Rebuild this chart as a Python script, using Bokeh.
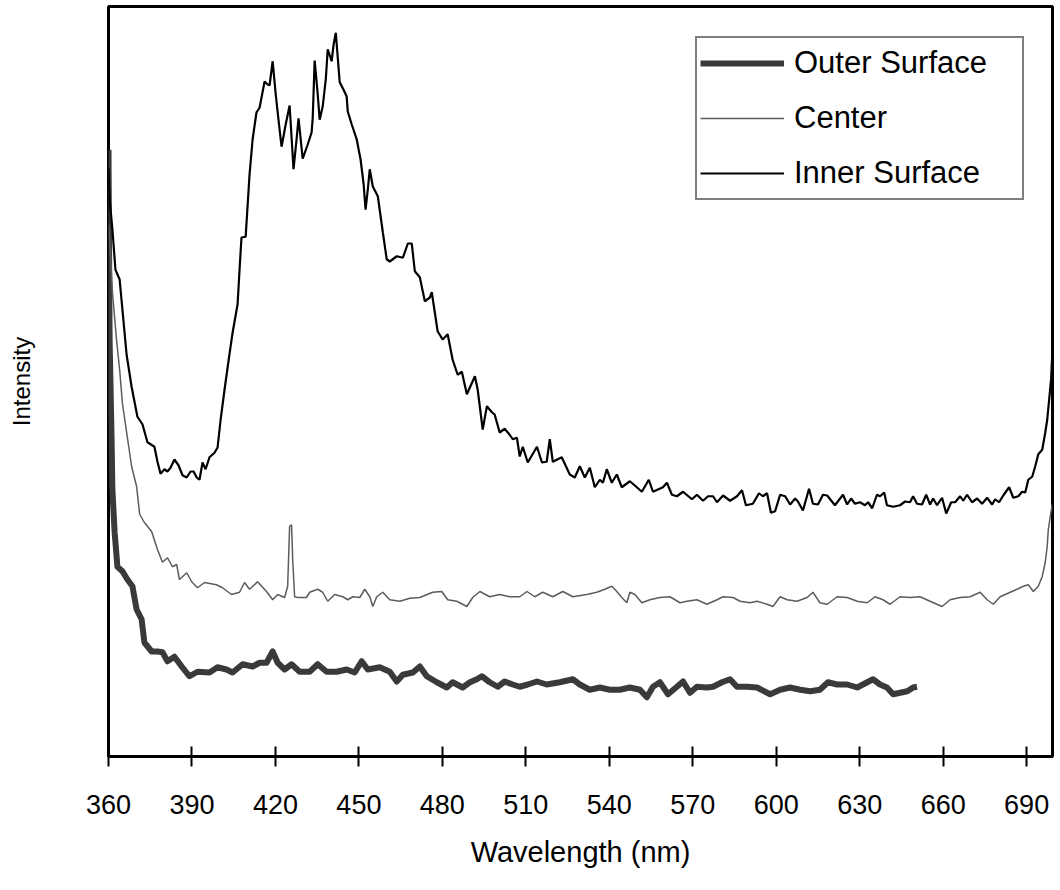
from bokeh.plotting import figure
from bokeh.models import Range1d, FixedTicker, Legend, LegendItem
from bokeh.embed import file_html
from bokeh.resources import INLINE

# ---------------- data ----------------
x_ticks = [360, 390, 420, 450, 480, 510, 540, 570, 600, 630, 660, 690]
series_names = ["Outer Surface", "Center", "Inner Surface"]

outer_nm = [360, 360.4, 361.1, 361.4, 362.2, 363.2, 365.0, 366.8, 368.6, 370.1, 371.9, 372.9, 375.5, 377.6,
            379.4, 381.2, 383.7, 386.3, 389.1, 392.0, 396.3, 399.2, 402.4, 404.6, 408.2, 411.8, 414.3, 416.8,
            419.0, 420.8, 423.3, 425.8, 428.7, 432.3, 435.2, 438.4, 442.0, 445.6, 448.5, 451.0, 453.2, 457.5,
            461.1, 463.6, 465.8, 469.4, 471.9, 474.4, 478.0, 481.6, 483.7, 487.3, 489.9, 492.4, 494.2, 497.0,
            499.9, 502.4, 505.3, 507.8, 510.7, 514.0, 517.5, 522.2, 526.9, 529.4, 533.0, 536.6, 540.2, 543.8,
            547.4, 551.0, 553.5, 555.7, 558.2, 561.1, 564.3, 566.5, 569.0, 571.5, 575.1, 577.3, 580.5, 583.4,
            585.9, 589.5, 593.1, 597.8, 601.4, 605.0, 608.6, 612.2, 615.7, 618.6, 621.9, 625.5, 629.1, 632.7,
            634.8, 637.3, 639.8, 642.0, 644.5, 647.1, 649.2, 650.6]
outer_int = [80.9, 55.5, 42.5, 35.6, 29.9, 25.3, 24.7, 23.6, 22.7, 19.6, 18.3, 15.2, 14.0, 14.0,
             13.9, 12.7, 13.3, 12.0, 10.7, 11.3, 11.2, 11.9, 11.6, 11.2, 12.3, 12.0, 12.5, 12.5,
             14.0, 12.5, 11.6, 12.3, 11.3, 11.3, 12.3, 11.3, 11.3, 11.6, 11.2, 12.7, 11.6, 11.9,
             11.3, 10.0, 10.9, 11.2, 12.0, 10.7, 9.9, 9.2, 9.9, 9.2, 9.9, 10.3, 10.7, 9.9,
             9.3, 10.0, 9.6, 9.3, 9.6, 10.0, 9.6, 9.9, 10.3, 9.6, 8.9, 9.2, 8.9, 8.9,
             9.2, 8.9, 7.9, 9.3, 9.9, 8.3, 9.3, 10.0, 8.5, 9.3, 9.2, 9.3, 9.9, 10.3,
             9.3, 9.3, 9.2, 8.3, 8.9, 9.2, 8.9, 8.7, 8.9, 9.9, 9.6, 9.6, 9.2, 9.9,
             10.3, 9.6, 9.2, 8.3, 8.5, 8.7, 9.2, 9.3]

center_nm = [360, 360.4, 361.4, 362.9, 364.0, 365.0, 366.8, 368.3, 370.1, 371.2, 372.9, 375.5, 377.6, 379.4,
             381.2, 383.0, 384.5, 385.5, 388.1, 389.9, 392.0, 394.5, 398.8, 401.0, 404.2, 407.1, 408.9, 410.7,
             413.6, 416.8, 419.0, 420.8, 423.3, 424.4, 425.1, 425.8, 426.2, 426.9, 428.0, 431.2, 432.3, 435.2,
             437.0, 438.8, 441.3, 444.2, 446.0, 447.8, 450.3, 452.1, 453.9, 455.0, 456.4, 458.6, 461.1, 464.7,
             468.3, 471.9, 476.5, 479.8, 481.9, 485.2, 488.8, 490.9, 493.5, 497.0, 500.6, 504.2, 507.8, 510.4,
             513.2, 516.1, 519.7, 523.3, 526.9, 531.9, 535.5, 538.4, 540.9, 542.7, 544.5, 546.3, 547.4, 549.2,
             551.7, 554.6, 558.2, 561.8, 565.4, 567.9, 571.5, 575.1, 578.7, 580.9, 584.5, 587.0, 590.6, 593.1,
             596.7, 598.8, 601.4, 603.9, 607.5, 611.1, 613.2, 615.7, 618.3, 621.9, 625.5, 629.1, 632.7, 635.5,
             638.4, 640.9, 644.5, 648.1, 651.7, 655.3, 659.6, 662.5, 666.1, 669.7, 673.3, 675.8, 678.0, 680.5,
             684.1, 686.6, 688.8, 690.6, 692.4, 694.2, 695.6, 696.7, 697.4, 697.8, 698.5, 699.2]
center_int = [70.9, 68.9, 62.0, 55.5, 51.6, 47.1, 42.5, 38.7, 36.0, 32.3, 31.2, 30.0, 27.6, 25.9,
              26.5, 25.3, 25.6, 23.6, 24.5, 23.3, 22.5, 23.2, 22.9, 22.5, 21.6, 21.9, 23.2, 22.3,
              23.3, 22.0, 20.9, 21.6, 21.2, 22.7, 30.7, 30.9, 26.3, 21.3, 21.2, 21.2, 21.9, 22.3,
              21.9, 20.7, 21.6, 21.3, 20.9, 21.3, 21.2, 22.3, 21.3, 20.0, 21.3, 21.9, 20.9, 20.7,
              21.1, 21.2, 21.9, 22.0, 20.9, 20.7, 20.0, 21.2, 22.0, 21.3, 21.6, 21.3, 21.3, 22.0,
              21.3, 21.9, 21.3, 22.0, 21.3, 21.6, 21.9, 22.3, 22.7, 22.0, 21.2, 20.5, 21.9, 21.6,
              20.5, 20.9, 21.2, 21.3, 20.5, 20.7, 20.9, 20.3, 20.9, 21.3, 21.2, 20.7, 20.5, 20.7,
              20.3, 20.0, 21.3, 20.9, 20.7, 21.2, 21.9, 20.5, 20.3, 21.3, 21.2, 20.7, 20.5, 21.3,
              20.9, 20.3, 21.3, 21.2, 21.3, 20.7, 20.0, 20.9, 21.2, 21.3, 21.9, 20.9, 20.3, 21.3,
              21.9, 22.3, 22.7, 22.9, 22.0, 22.7, 24.0, 25.9, 28.0, 30.3, 32.0, 33.6]

inner_nm = [360, 360.4, 361.4, 362.5, 364.0, 365.0, 366.5, 368.3, 370.4, 372.2, 374.0, 376.5, 377.6, 378.7,
            380.1, 381.2, 382.3, 383.7, 385.2, 386.6, 388.1, 389.5, 390.6, 391.7, 392.7, 393.8, 394.9, 396.3,
            398.1, 399.2, 400.3, 401.7, 403.2, 404.6, 406.4, 407.1, 407.8, 409.3, 410.7, 411.8, 413.2, 414.3,
            416.1, 417.2, 417.9, 419.0, 420.1, 421.1, 422.2, 423.7, 425.1, 426.5, 427.6, 428.3, 429.8, 431.6,
            433.0, 433.4, 434.1, 435.2, 435.9, 437.0, 438.1, 438.8, 440.2, 440.9, 441.7, 443.1, 444.5, 445.6,
            446.0, 447.4, 449.2, 450.6, 451.7, 452.4, 453.2, 453.9, 455.0, 456.8, 458.6, 460.0, 461.1, 463.6,
            465.8, 467.6, 469.0, 470.1, 471.9, 473.7, 475.5, 476.2, 478.3, 480.1, 481.9, 483.7, 485.5, 487.0,
            488.8, 491.7, 492.7, 494.5, 496.0, 497.8, 498.8, 500.6, 502.4, 504.2, 505.3, 506.8, 507.8, 508.9,
            510.7, 514.0, 515.8, 517.5, 518.6, 519.7, 522.9, 525.8, 527.6, 529.4, 531.2, 533.0, 534.8, 536.6,
            537.7, 539.1, 540.9, 542.7, 544.5, 547.4, 549.9, 551.7, 554.2, 555.7, 559.3, 560.7, 562.5, 564.3,
            566.5, 569.7, 571.5, 573.7, 575.5, 577.3, 578.7, 580.9, 583.4, 585.9, 587.7, 589.1, 591.6, 593.8,
            595.2, 596.7, 598.1, 599.6, 601.4, 603.2, 605.0, 606.8, 607.8, 609.6, 611.8, 613.2, 615.0, 616.8,
            618.3, 621.1, 624.0, 625.5, 626.9, 628.3, 630.1, 631.9, 633.0, 634.5, 636.2, 637.3, 638.8, 639.8,
            642.0, 644.5, 646.3, 648.1, 649.2, 650.6, 652.4, 653.9, 655.3, 656.4, 657.8, 659.6, 661.1, 662.9,
            664.3, 666.1, 667.2, 668.6, 670.4, 672.2, 674.0, 675.8, 677.6, 678.7, 680.1, 681.6, 683.7, 685.2,
            687.0, 688.4, 689.5, 690.6, 692.0, 693.1, 694.2, 695.6, 696.7, 697.4, 698.1, 698.8, 699.2]
inner_int = [78.5, 74.3, 70.3, 64.9, 63.6, 59.6, 53.6, 49.3, 45.3, 44.3, 41.9, 41.3, 39.3, 37.7,
             38.3, 38.0, 38.5, 39.6, 38.8, 37.5, 37.2, 38.0, 38.0, 37.2, 36.9, 39.2, 38.3, 39.9,
             40.5, 41.2, 44.9, 48.9, 52.9, 56.5, 60.3, 64.9, 69.2, 69.3, 77.6, 82.3, 85.9, 86.5,
             90.0, 89.6, 89.5, 92.7, 88.3, 84.9, 81.3, 84.3, 86.8, 78.3, 82.3, 85.1, 79.7, 81.6,
             83.2, 85.1, 92.8, 88.3, 84.9, 86.7, 90.3, 94.3, 92.7, 94.9, 96.5, 89.9, 88.9, 88.0,
             86.0, 84.3, 82.3, 79.6, 76.3, 72.9, 75.6, 78.3, 76.0, 74.7, 69.9, 66.3, 66.0, 66.7,
             66.5, 68.4, 68.4, 64.7, 63.9, 60.7, 61.2, 61.9, 56.7, 55.6, 56.3, 52.9, 50.9, 51.3,
             48.3, 50.7, 48.9, 43.6, 46.7, 45.9, 45.6, 43.2, 43.7, 42.9, 42.3, 42.5, 40.0, 41.3,
             39.2, 41.3, 39.2, 39.3, 42.3, 39.3, 39.9, 37.6, 37.2, 38.7, 37.2, 38.5, 35.9, 36.9,
             36.5, 38.3, 36.5, 37.6, 35.9, 36.7, 35.9, 35.3, 36.9, 35.3, 35.9, 36.5, 34.9, 34.7,
             35.3, 34.3, 34.9, 34.1, 34.7, 34.7, 33.9, 34.8, 34.1, 34.7, 35.5, 33.5, 33.7, 35.1,
             34.7, 35.1, 32.5, 32.7, 34.9, 34.7, 33.6, 34.4, 34.0, 32.8, 35.7, 33.7, 33.6, 34.9,
             34.8, 33.5, 34.9, 33.6, 34.4, 33.7, 33.9, 33.5, 33.9, 33.1, 34.9, 34.7, 35.2, 33.5,
             33.3, 33.5, 34.0, 33.9, 34.7, 33.7, 33.6, 34.9, 33.6, 34.4, 33.5, 34.5, 32.4, 33.9,
             33.9, 34.7, 34.1, 34.9, 33.9, 34.4, 33.7, 34.5, 33.6, 34.3, 33.9, 34.8, 35.9, 34.5,
             34.7, 35.3, 35.2, 36.9, 37.3, 38.7, 40.3, 40.9, 43.2, 44.9, 47.6, 50.3, 53.6]

FONT = "Liberation Sans"

p = figure(frame_width=944, frame_height=750,
           x_range=Range1d(360, 699.3), y_range=Range1d(0, 100),
           output_backend="svg", toolbar_location=None,
           min_border_left=108, min_border_right=2, min_border_top=6, min_border_bottom=6,
           background_fill_color="white", border_fill_color="white")

p.outline_line_color = "black"
p.outline_line_width = 3
p.xgrid.visible = False
p.ygrid.visible = False

def pair(a, b):
    n = min(len(a), len(b))
    return a[:n], b[:n]

ox, oy = pair(outer_nm, outer_int)
cx, cy = pair(center_nm, center_int)
ix, iy = pair(inner_nm, inner_int)

r_outer = p.line(ox, oy, line_color="#3a3a3a", line_width=6, line_join="round")
r_center = p.line(cx, cy, line_color="#5c5c5c", line_width=1.5)
r_inner = p.line(ix, iy, line_color="black", line_width=2.2)

xa = p.xaxis[0]
xa.ticker = FixedTicker(ticks=x_ticks)
xa.axis_line_width = 3
xa.axis_line_color = "black"
xa.major_tick_line_width = 2
xa.major_tick_in = 10
xa.major_tick_out = 10
xa.minor_tick_line_color = None
xa.major_label_text_font = FONT
xa.major_label_text_font_size = "27px"
xa.major_label_text_color = "black"
xa.major_label_standoff = 28
xa.axis_label = "Wavelength (nm)"
xa.axis_label_text_font = FONT
xa.axis_label_text_font_size = "29px"
xa.axis_label_text_font_style = "normal"
xa.axis_label_text_color = "black"
xa.axis_label_standoff = 19

ya = p.yaxis[0]
ya.ticker = FixedTicker(ticks=[])
ya.axis_line_color = None
ya.major_tick_line_color = None
ya.minor_tick_line_color = None
ya.axis_label = "Intensity"
ya.axis_label_text_font = FONT
ya.axis_label_text_font_size = "24px"
ya.axis_label_text_font_style = "normal"
ya.axis_label_text_color = "black"
ya.axis_label_standoff = 74

legend = Legend(items=[LegendItem(label=series_names[0], renderers=[r_outer]),
                       LegendItem(label=series_names[1], renderers=[r_center]),
                       LegendItem(label=series_names[2], renderers=[r_inner])],
                location=(587, 556))
legend.label_text_font = FONT
legend.label_text_font_size = "31px"
legend.label_text_color = "black"
legend.glyph_width = 84
legend.glyph_height = 44
legend.label_height = 44
legend.label_width = 225
legend.label_standoff = 10
legend.spacing = 11
legend.padding = 3
legend.margin = 0
legend.border_line_color = "black"
legend.border_line_width = 2
legend.background_fill_color = "white"
legend.background_fill_alpha = 1
p.add_layout(legend)

open("out.html", "w").write(file_html(p, INLINE))
